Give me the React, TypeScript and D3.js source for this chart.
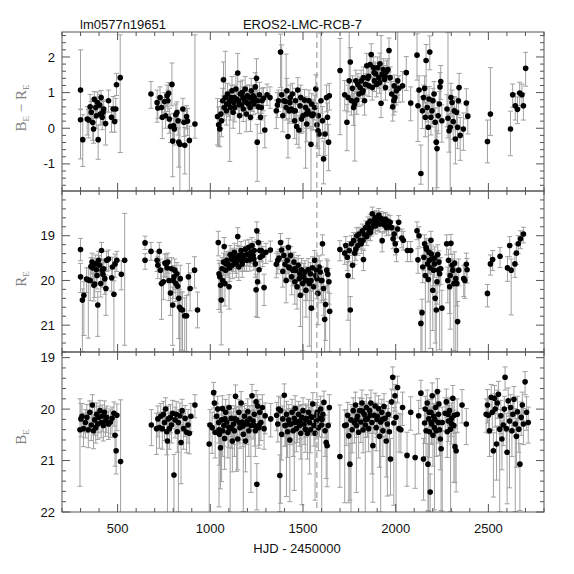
import React from 'react';
import * as d3 from 'd3';

// [HJD-2450000, value, error toward top of panel, error toward bottom of panel]
type Pt = [number, number, number, number];

const colorData: Pt[] = [
  [300,1.07,1.13,0.55],[300,0.24,0.3,1.1],[312,-0.32,0.7,0.75],[336,0.26,0.35,0.45],[344,0.23,0.3,0.5],
  [352,0.6,0.35,0.35],[358,0.45,0.3,0.3],[366,0.16,0.32,0.5],[370,-0.02,0.3,0.4],[374,0.81,0.22,0.3],
  [382,0.58,0.3,0.3],[385,0.35,0.28,0.35],[391,0.72,0.3,0.3],[395,-0.32,0.4,0.55],[403,0.65,0.3,0.32],
  [407,0.4,0.25,0.3],[411,0.86,0.2,0.3],[417,0.31,0.3,0.35],[421,0.45,0.3,0.3],[425,0.54,0.25,0.35],
  [435,0.13,0.35,0.6],[451,0.77,0.3,0.32],[467,0.31,0.3,0.42],[476,0.54,0.35,0.3],[484,0.19,0.35,0.3],
  [490,0.54,0.3,0.3],[494,1.22,0.32,0.3],[514,1.42,1.2,2.1],
  [680,0.96,0.35,0.4],[713,0.72,0.35,0.55],[717,0.57,0.3,0.3],[729,0.86,0.3,0.32],[737,0.58,0.28,0.3],
  [741,0.31,0.3,0.6],[753,0.75,0.25,0.3],[759,0.35,0.3,0.35],[767,0.91,0.3,0.3],[771,0.77,0.3,0.3],
  [775,0.98,0.3,0.3],[779,0.26,0.3,0.4],[785,0.05,0.35,0.45],[793,1.23,0.6,0.6],[797,-0.36,0.5,1.0],
  [802,0.07,0.35,0.4],[806,-0.02,0.3,0.45],[814,0.38,0.3,0.35],[820,0.44,0.3,0.3],[826,0.21,0.3,0.4],
  [830,-0.39,0.4,0.7],[836,-0.45,0.7,1.4],[852,0.54,0.3,0.4],[858,0.17,0.3,0.4],[862,-0.48,0.5,0.8],
  [872,0.33,0.3,0.35],[877,0.2,0.35,0.4],[887,-0.34,0.4,1.4],[917,0.12,2.5,0.4],
  [1039,0.33,0.5,0.8],[1045,0.1,0.5,0.6],[1051,-0.02,0.4,0.5],[1057,0.4,0.35,0.4],[1061,0.21,0.4,0.45],
  [1067,0.77,0.35,0.35],[1071,1.36,0.5,0.45],[1075,0.58,0.3,0.35],[1081,0.86,1.3,0.35],[1087,0.49,0.35,0.4],
  [1089,0.68,0.3,0.3],[1093,0.96,0.3,0.3],[1099,0.68,0.35,0.35],[1105,0.77,0.3,1.7],[1109,0.58,0.3,0.35],
  [1112,0.86,0.35,0.3],[1117,1.05,0.4,0.35],[1123,0.45,0.3,0.45],[1127,0.72,0.3,0.3],[1129,0.86,0.35,0.3],
  [1132,0.58,0.3,0.4],[1138,1.1,0.4,0.4],[1142,0.82,0.3,0.3],[1148,1.55,0.55,0.6],[1152,0.77,0.3,0.35],
  [1156,0.66,0.35,0.3],[1158,0.35,0.3,0.5],[1162,0.96,0.35,0.35],[1168,0.66,0.3,0.3],[1172,1.0,0.35,0.35],
  [1176,0.86,0.3,0.3],[1178,0.54,0.3,0.35],[1184,0.79,0.3,0.3],[1188,1.1,0.35,0.4],[1194,0.4,0.35,0.5],
  [1196,0.72,0.3,0.3],[1200,0.91,0.3,0.35],[1206,0.68,0.3,0.3],[1211,0.86,0.35,0.35],[1215,0.58,0.3,0.35],
  [1217,0.31,0.35,0.4],[1221,1.05,0.35,0.35],[1227,0.77,0.3,0.3],[1231,0.91,0.3,0.35],[1235,0.68,0.35,0.3],
  [1237,0.86,0.3,0.3],[1243,1.16,0.4,0.4],[1249,1.4,0.55,0.8],[1253,-0.39,0.5,1.1],[1255,0.77,0.3,0.35],
  [1259,0.6,0.35,0.35],[1265,0.94,0.35,0.4],[1271,0.31,0.35,0.45],[1275,0.58,0.3,0.35],[1279,0.77,0.35,0.35],
  [1287,0.84,0.3,0.35],[1294,-0.05,0.4,0.5],[1306,0.94,0.3,0.3],[1322,0.86,0.3,0.3],
  [1356,0.49,0.3,0.5],[1362,0.65,0.35,0.35],[1368,0.77,0.3,0.3],[1379,2.14,0.5,1.0],[1385,0.94,1.4,0.35],
  [1391,0.35,0.35,0.45],[1397,0.77,0.3,0.35],[1405,0.75,0.3,0.3],[1409,0.58,1.5,0.35],[1413,1.05,0.35,0.4],
  [1419,-0.23,0.5,0.6],[1425,0.49,0.3,0.35],[1429,0.72,0.3,0.3],[1431,0.86,0.35,0.3],[1437,0.54,0.3,0.35],
  [1443,0.96,0.3,0.3],[1449,0.49,0.35,0.35],[1455,0.21,0.35,0.5],[1458,0.49,0.3,0.3],[1460,0.77,0.35,0.3],
  [1466,0.05,0.4,0.5],[1472,1.07,0.35,0.4],[1478,-0.05,0.4,0.5],[1484,0.63,0.3,0.35],[1488,0.86,0.35,0.3],
  [1492,0.26,0.35,0.4],[1500,0.35,0.4,0.45],[1508,0.79,0.3,0.35],[1514,0.58,0.3,1.7],[1518,0.4,0.35,0.4],
  [1520,0.12,0.4,0.5],[1526,0.49,0.35,0.35],[1532,0.77,0.3,0.3],[1537,0.4,0.35,0.4],[1543,-0.45,0.5,1.4],
  [1547,0.68,0.3,0.35],[1549,0.35,0.35,0.4],[1555,0.4,0.4,0.45],[1563,0.58,0.35,0.35],[1569,1.1,0.4,0.4],
  [1575,0.1,0.45,0.6],[1581,-0.07,0.4,0.5],[1583,0.35,0.35,0.4],[1587,-0.16,0.45,0.6],[1597,0.77,1.9,0.35],
  [1605,0.21,0.4,0.5],[1611,-0.86,0.5,0.7],[1619,-0.16,0.45,0.6],[1627,0.86,0.35,0.4],[1632,0.31,0.4,0.5],
  [1638,-0.39,0.5,0.8],[1642,0.91,0.35,0.4],
  [1700,1.62,0.9,1.8],[1725,0.94,0.4,0.45],[1737,0.17,0.5,0.8],[1743,0.86,0.35,0.4],[1749,1.33,1.4,0.4],
  [1755,1.86,0.4,0.5],[1761,0.77,0.35,0.4],[1767,1.12,0.35,0.35],[1773,0.58,0.4,0.5],[1779,0.68,0.35,1.6],
  [1785,1.33,0.3,0.35],[1790,0.79,0.35,0.4],[1796,1.23,0.3,0.35],[1802,0.96,0.3,0.35],[1808,1.14,0.3,0.3],
  [1814,1.33,0.3,0.3],[1820,1.0,0.3,0.35],[1824,1.05,0.3,0.3],[1826,1.42,0.3,0.3],[1832,0.77,0.35,0.4],
  [1838,1.23,0.3,0.3],[1844,1.75,0.35,0.35],[1850,1.4,0.3,0.3],[1854,1.46,0.3,0.3],[1856,1.19,0.3,0.3],
  [1862,1.79,0.3,0.35],[1868,2.07,0.3,0.35],[1874,1.14,0.3,0.35],[1880,1.7,0.3,0.3],[1883,1.56,0.3,0.3],
  [1885,1.33,0.3,0.3],[1891,1.53,0.3,0.3],[1897,1.23,0.3,0.35],[1903,1.7,0.3,0.3],[1909,1.42,0.3,0.3],
  [1913,1.28,0.3,0.3],[1915,1.81,0.3,0.35],[1921,0.7,1.9,0.4],[1927,1.51,0.3,0.3],[1933,1.65,0.3,0.3],
  [1939,1.37,0.3,0.3],[1943,1.46,0.3,0.3],[1945,1.14,0.3,0.35],[1951,1.59,0.3,0.3],[1958,1.65,0.3,0.3],
  [1964,2.18,0.35,0.6],[1970,1.42,0.3,0.35],[1978,0.96,0.35,0.4],[1984,0.6,0.35,0.4],[1990,0.77,0.35,0.4],
  [1992,1.19,0.3,0.35],[1996,0.86,0.35,0.4],[2004,1.05,0.35,0.4],[2011,1.33,1.4,0.4],[2017,1.12,0.35,0.4],
  [2037,1.19,0.4,0.45],[2057,1.56,0.45,0.5],[2081,0.71,0.45,0.5],
  [2115,2.05,0.6,0.7],[2120,0.63,0.4,1.0],[2126,1.07,0.4,0.45],[2136,-1.27,0.8,0.3],[2144,0.49,0.4,0.5],
  [2150,0.86,0.35,0.4],[2156,1.12,0.35,0.4],[2160,0.31,0.4,0.55],[2164,1.9,0.45,1.6],[2170,0.58,0.35,0.4],
  [2176,0.03,0.4,1.8],[2180,0.82,0.35,0.4],[2184,2.14,0.45,0.5],[2190,0.31,0.4,0.5],[2196,0.49,0.35,0.45],
  [2201,0.77,0.35,0.4],[2207,0.96,0.35,0.4],[2213,0.17,0.4,0.55],[2219,-0.39,0.5,1.4],[2223,-0.57,0.5,1.1],
  [2229,0.35,0.4,0.5],[2235,0.68,0.35,0.4],[2239,1.16,0.4,0.45],[2243,1.31,0.45,0.5],[2249,0.21,0.45,0.6],
  [2277,0.54,0.4,0.5],[2282,0.28,2.4,0.55],[2288,-0.07,0.45,0.6],[2294,0.03,0.45,1.8],[2298,0.86,0.4,0.45],
  [2304,0.72,0.35,0.4],[2310,0.19,0.4,0.5],[2316,0.49,0.4,0.45],[2322,-0.3,0.5,0.7],[2328,0.45,0.4,0.5],
  [2334,0.03,0.45,0.6],[2338,0.77,0.35,0.4],[2342,1.14,0.4,0.45],[2348,-0.2,0.5,0.7],[2365,-0.02,0.45,0.6],
  [2381,0.71,0.4,0.45],[2389,0.34,0.4,0.5],
  [2495,-0.37,0.6,0.6],[2511,0.4,1.3,0.6],[2619,-0.02,0.5,0.75],[2631,0.94,0.3,0.35],[2645,0.63,0.35,0.4],
  [2657,0.53,0.35,0.4],[2669,0.99,0.3,0.35],[2681,0.94,0.3,0.35],[2689,0.63,0.35,0.4],[2701,1.68,0.45,0.5],
];

const rData: Pt[] = [
  [300,19.31,0.25,0.25],[300,19.92,0.3,0.35],[310,20.44,0.25,1.15],[318,20.33,0.3,0.9],[332,19.97,0.25,0.3],
  [342,19.99,0.28,1.3],[352,20.0,0.3,0.45],[356,19.69,0.2,0.25],[362,19.59,0.2,0.25],[366,19.72,0.22,0.3],
  [372,20.11,0.25,0.35],[376,20.08,0.25,0.3],[382,19.63,0.2,0.25],[385,19.76,0.22,0.3],[389,19.89,0.25,0.3],
  [393,20.55,0.3,0.7],[397,19.55,0.2,0.25],[403,19.66,0.22,0.25],[409,20.07,0.25,0.3],[413,19.33,0.18,0.2],
  [417,19.77,0.22,0.25],[421,19.86,0.25,0.3],[425,19.74,0.22,0.3],[431,19.96,0.25,0.35],[437,20.18,0.3,0.6],
  [441,19.55,0.2,0.25],[451,19.52,0.2,0.25],[468,19.94,0.25,0.3],[472,19.7,0.22,0.3],[480,20.31,0.3,1.3],
  [486,19.63,0.22,0.3],[496,19.55,0.2,0.25],[520,19.86,0.3,0.35],[538,19.55,1.05,1.9],
  [648,19.16,0.15,0.15],[648,19.55,0.15,0.2],[680,19.35,0.2,0.2],[713,19.55,0.2,0.25],[717,19.66,0.2,0.3],
  [725,19.35,0.2,0.25],[731,19.77,0.25,0.3],[737,20.07,0.3,0.8],[747,20.03,0.3,0.4],[755,19.61,0.2,0.3],
  [761,19.63,0.22,0.3],[767,19.72,0.22,0.3],[771,19.59,0.2,0.25],[777,20.0,0.3,0.45],[785,20.28,0.3,0.5],
  [791,19.74,0.25,0.3],[797,20.55,0.4,0.9],[800,20.0,0.3,0.4],[804,19.92,0.25,0.35],[808,19.77,0.25,0.3],
  [814,20.07,0.3,0.4],[820,19.85,0.25,0.35],[824,20.13,0.3,0.45],[830,20.4,0.4,0.9],[834,20.6,0.4,1.0],
  [838,19.96,0.3,0.4],[842,20.65,0.4,1.0],[850,20.66,0.4,0.9],[862,20.79,0.4,0.8],[872,20.79,0.45,0.8],
  [882,19.92,0.3,0.4],[891,20.18,0.35,0.5],[915,19.77,0.3,0.4],[931,20.66,0.4,0.4],
  [1043,19.15,0.25,0.3],[1047,19.85,0.3,0.8],[1051,19.92,0.3,0.5],[1055,20.11,0.35,0.6],[1059,20.44,0.4,1.0],
  [1063,19.74,0.25,0.35],[1067,20.0,0.3,0.45],[1071,19.59,0.2,0.3],[1075,19.24,0.2,0.25],[1079,20.07,0.3,0.5],
  [1083,19.77,0.25,0.3],[1085,19.63,0.2,0.25],[1089,19.55,0.2,0.25],[1095,19.63,0.2,0.3],[1101,20.14,0.3,0.5],
  [1105,19.72,0.22,0.3],[1107,19.42,0.2,0.25],[1113,19.52,0.2,0.25],[1119,19.66,0.2,0.3],[1121,19.48,0.2,0.25],
  [1125,19.55,0.2,0.25],[1130,19.37,0.2,0.25],[1136,19.59,0.2,0.25],[1140,19.63,0.2,0.3],[1142,19.48,0.2,0.25],
  [1148,19.02,0.2,0.2],[1154,19.7,0.22,0.3],[1156,19.44,0.2,0.25],[1160,19.54,0.2,0.25],[1166,19.33,0.2,0.25],
  [1172,19.63,0.22,0.3],[1176,19.55,0.2,0.25],[1178,19.44,0.2,0.25],[1184,19.54,0.2,0.25],[1190,19.3,0.2,0.22],
  [1196,19.55,0.2,0.25],[1198,19.42,0.2,0.25],[1202,19.42,0.2,0.25],[1208,19.26,0.18,0.22],[1213,19.54,0.2,0.25],
  [1215,19.44,0.2,0.25],[1219,19.37,0.2,0.25],[1225,19.22,0.18,0.22],[1231,19.44,0.2,0.25],[1235,19.52,0.2,0.25],
  [1237,19.33,0.2,0.25],[1243,19.63,0.22,0.3],[1247,20.21,0.35,0.6],[1251,18.89,0.2,0.2],[1255,20.03,0.3,0.8],
  [1259,19.15,0.2,0.2],[1263,19.76,0.25,0.3],[1267,19.33,0.2,0.25],[1269,19.48,0.2,0.25],[1275,19.33,0.2,0.25],
  [1283,19.44,0.2,0.25],[1290,20.16,0.3,0.4],[1300,19.37,0.2,0.25],[1324,19.32,0.2,0.25],
  [1356,19.64,0.25,0.3],[1364,19.55,0.2,0.3],[1371,19.5,0.2,0.25],[1379,19.15,0.2,0.25],[1385,19.32,0.2,0.25],
  [1391,19.8,0.25,0.35],[1397,19.44,0.2,0.3],[1403,19.64,0.25,0.3],[1409,20.0,0.3,0.5],[1415,19.55,0.22,0.3],
  [1421,19.26,0.2,0.25],[1423,19.7,0.22,0.3],[1427,19.72,0.22,0.3],[1433,19.44,0.2,0.3],[1439,19.92,0.3,0.4],
  [1445,19.77,0.25,0.35],[1451,19.59,0.22,0.3],[1454,19.74,0.25,0.3],[1456,20.03,0.3,0.5],[1462,19.77,0.25,0.35],
  [1468,20.14,0.3,0.5],[1474,19.66,0.22,0.3],[1480,19.96,0.3,0.4],[1483,19.85,0.25,0.35],[1486,20.33,0.35,0.7],
  [1492,19.76,0.25,0.35],[1498,20.07,0.3,1.5],[1504,19.92,0.3,0.4],[1510,19.81,0.25,0.35],[1513,20.0,0.3,0.45],
  [1516,20.22,0.35,0.6],[1522,20.0,0.3,0.45],[1528,19.76,0.25,0.35],[1534,20.07,0.3,1.4],[1540,19.85,0.25,0.4],
  [1543,20.0,0.3,0.45],[1545,20.62,0.4,1.0],[1551,19.72,0.25,0.35],[1557,20.14,0.3,0.5],[1563,19.55,0.22,0.3],
  [1569,19.89,0.3,0.4],[1572,19.77,0.25,0.35],[1575,19.96,0.3,0.45],[1581,20.29,0.35,0.7],[1587,19.7,0.25,0.35],
  [1593,19.81,0.25,0.4],[1599,20.0,0.3,0.5],[1602,20.0,0.3,0.45],[1605,19.18,0.2,0.25],[1611,20.18,0.35,0.6],
  [1617,20.87,0.45,0.8],[1622,20.54,0.4,0.8],[1628,19.77,0.25,0.35],[1634,19.86,0.3,0.4],[1640,20.03,0.3,0.5],
  [1644,20.69,0.4,0.9],
  [1699,19.31,0.2,0.25],[1725,19.39,0.2,0.25],[1731,19.22,0.2,0.25],[1739,19.48,0.22,0.3],[1743,19.89,0.3,1.0],
  [1749,19.33,0.2,0.25],[1755,20.66,0.3,1.0],[1761,19.18,0.18,0.22],[1767,19.66,0.22,0.3],[1773,19.11,0.18,0.22],
  [1779,19.39,0.2,0.25],[1785,19.3,0.2,0.25],[1790,19.0,0.18,0.2],[1796,19.22,0.18,0.22],[1802,18.96,0.15,0.2],
  [1808,19.1,0.18,0.2],[1814,19.18,0.18,0.22],[1820,18.89,0.15,0.18],[1824,19.1,0.18,0.2],[1826,19.53,0.2,0.25],
  [1832,18.98,0.15,0.18],[1838,18.82,0.15,0.18],[1844,19.02,0.15,0.2],[1850,18.73,0.15,0.18],[1854,18.83,0.15,0.18],
  [1856,18.93,0.15,0.18],[1862,18.67,0.15,0.18],[1864,18.93,0.15,0.18],[1868,18.83,0.15,0.18],[1874,18.51,0.15,0.15],
  [1880,18.74,0.15,0.18],[1883,18.7,0.15,0.18],[1885,18.65,0.15,0.18],[1889,18.6,0.15,0.18],[1891,18.78,0.15,0.18],
  [1897,18.59,0.15,0.18],[1903,18.7,0.15,0.18],[1906,18.72,0.15,0.18],[1909,18.54,0.15,0.15],[1915,18.74,0.15,0.18],
  [1921,18.61,0.15,0.18],[1927,19.11,0.2,0.25],[1933,18.65,0.15,0.18],[1939,18.76,0.15,0.18],[1943,18.72,0.15,0.18],
  [1945,18.63,0.15,0.18],[1951,18.82,0.15,0.18],[1957,18.67,0.15,0.18],[1962,18.8,0.15,0.18],[1970,18.7,0.15,0.18],
  [1978,18.82,0.15,0.18],[1986,19.07,0.18,0.22],[1992,18.96,0.18,0.2],[1998,19.18,0.2,0.25],[2004,19.33,0.2,0.25],
  [2010,18.85,0.18,0.2],[2016,18.7,0.15,0.2],[2033,19.05,0.2,0.22],[2041,19.1,0.2,0.22],[2063,19.33,0.2,0.25],
  [2081,19.33,0.2,0.25],
  [2115,18.89,0.2,0.2],[2120,19.54,0.25,0.3],[2126,19.0,0.2,0.25],[2136,20.96,0.3,0.7],[2142,20.72,0.3,0.9],
  [2146,19.7,0.25,0.35],[2152,19.48,0.22,0.3],[2156,19.18,0.2,0.25],[2160,19.89,0.3,1.7],[2164,19.26,0.2,0.25],
  [2166,19.3,0.2,0.25],[2172,19.63,0.25,0.3],[2176,19.98,0.3,0.5],[2180,19.37,0.2,0.3],[2182,19.55,0.22,0.3],
  [2186,19.72,0.25,1.8],[2190,19.1,0.2,0.25],[2192,19.41,0.2,0.3],[2196,19.52,0.22,0.3],[2200,20.22,0.35,0.9],
  [2204,19.77,0.25,0.35],[2209,19.63,0.25,0.3],[2211,19.5,0.25,0.3],[2213,20.4,0.35,1.0],[2219,20.66,0.4,1.0],
  [2223,20.03,0.3,0.5],[2227,19.42,0.22,0.3],[2231,19.77,0.25,0.35],[2233,19.59,0.25,0.3],[2237,19.85,0.3,1.7],
  [2243,19.74,0.25,0.35],[2249,20.62,0.4,1.0],[2275,19.18,0.2,0.25],[2281,20.0,0.3,0.5],[2285,19.55,0.25,0.3],
  [2291,20.14,0.35,0.6],[2294,19.89,0.3,1.2],[2298,19.17,0.2,0.25],[2304,19.66,0.25,0.35],[2308,19.77,0.25,0.35],
  [2314,20.07,0.3,1.5],[2318,19.61,0.25,0.3],[2324,19.96,0.3,1.64],[2330,20.07,0.3,0.5],[2334,20.92,0.45,0.7],
  [2340,19.77,0.25,0.35],[2367,19.96,0.3,0.4],[2373,20.0,0.3,0.4],[2381,19.64,0.25,0.3],[2385,19.76,0.25,0.3],
  [2495,20.29,0.2,0.3],[2511,19.63,0.2,0.25],[2523,19.53,0.2,0.25],[2563,19.46,0.2,0.25],[2603,19.72,0.25,0.3],
  [2615,19.22,0.2,0.25],[2623,19.77,0.25,1.0],[2643,19.63,0.22,0.3],[2651,19.39,0.2,0.25],[2661,19.18,0.18,0.22],
  [2673,19.07,0.18,0.22],[2689,18.96,0.15,0.2],
];

const bData: Pt[] = [
  [297,20.4,0.6,1.1],[302,20.19,0.3,0.35],[308,20.14,0.25,0.3],[316,20.38,0.3,0.35],[326,20.26,0.25,0.3],
  [334,20.16,0.25,0.3],[342,20.4,0.3,0.35],[350,20.06,0.22,0.3],[358,20.31,0.25,0.3],[364,19.92,0.2,0.25],
  [370,20.42,0.3,0.35],[376,20.21,0.25,0.3],[382,20.36,0.25,0.3],[387,20.1,0.22,0.25],[393,20.29,0.25,0.3],
  [399,20.16,0.22,0.3],[405,20.03,0.2,0.25],[411,20.26,0.25,0.3],[417,20.14,0.22,0.3],[423,20.32,0.25,0.3],
  [429,20.06,0.22,0.25],[435,20.23,0.25,0.3],[441,20.16,0.22,0.3],[451,20.29,0.25,0.3],[461,20.25,0.25,0.3],
  [470,20.18,0.22,0.3],[480,20.08,0.22,0.25],[486,20.51,0.35,0.6],[492,20.81,0.3,0.45],[496,20.12,0.22,0.3],
  [516,21.02,1.2,1.0],
  [682,20.31,0.3,0.4],[710,20.38,0.3,0.5],[717,20.19,0.25,0.35],[725,20.36,0.3,0.4],[733,20.14,0.25,0.3],
  [741,20.38,0.3,0.4],[747,20.1,0.25,0.3],[753,20.26,0.25,0.35],[759,20.0,0.22,0.3],[765,20.44,0.3,0.45],
  [769,20.62,0.35,2.0],[773,20.19,0.25,0.3],[779,20.38,0.3,0.4],[785,20.16,0.25,0.3],[791,20.31,0.25,0.35],
  [797,20.08,0.25,0.3],[804,21.28,0.4,1.0],[810,20.21,0.25,0.35],[816,20.1,0.25,0.3],[822,20.44,0.3,0.4],
  [828,20.26,0.25,1.74],[836,20.13,0.25,0.3],[842,20.65,0.35,0.8],[848,20.03,0.22,0.3],[856,20.38,0.3,0.4],
  [864,20.18,0.25,0.35],[872,20.45,0.3,0.4],[880,20.31,0.3,0.35],[887,20.47,0.3,0.4],[895,20.14,0.25,0.3],
  [917,19.92,0.2,0.25],
  [994,20.68,0.4,1.4],[998,20.31,0.3,0.4],[1010,20.36,0.3,0.5],[1018,19.68,0.2,0.3],[1022,19.88,0.22,0.3],
  [1026,20.45,0.3,0.5],[1034,20.14,0.25,0.35],[1040,20.0,0.25,0.3],[1045,20.26,0.3,0.4],[1047,20.4,0.3,1.5],
  [1049,20.49,0.3,0.6],[1055,20.75,0.4,0.8],[1061,20.21,0.25,1.2],[1065,19.99,0.25,0.3],[1067,20.42,0.3,0.5],
  [1073,20.32,0.3,0.4],[1077,20.57,0.35,0.6],[1079,20.19,0.25,0.35],[1083,20.06,0.25,0.3],[1089,20.25,0.3,0.35],
  [1095,20.45,0.3,0.5],[1099,20.35,0.3,0.4],[1101,19.97,0.25,0.3],[1107,20.38,0.3,1.62],[1113,20.18,0.25,0.35],
  [1115,20.36,0.3,0.4],[1119,20.62,0.35,0.6],[1125,20.29,0.3,0.4],[1130,20.42,0.3,0.5],[1134,20.19,0.25,0.35],
  [1136,19.75,0.22,0.3],[1142,20.21,0.25,1.0],[1148,20.58,0.35,0.6],[1154,20.06,0.25,0.3],[1156,20.26,0.3,0.4],
  [1160,20.36,0.3,0.4],[1166,19.88,0.22,0.3],[1172,20.25,0.3,0.35],[1176,20.33,0.3,0.4],[1178,20.49,0.3,1.5],
  [1184,20.14,0.25,0.35],[1190,20.62,0.35,0.6],[1196,20.29,0.3,0.4],[1200,20.23,0.3,0.35],[1202,20.05,0.25,0.3],
  [1208,20.42,0.3,0.5],[1213,20.19,0.25,0.35],[1219,20.32,0.3,1.3],[1225,19.74,0.22,0.3],[1231,20.23,0.3,0.35],
  [1237,20.1,0.25,0.3],[1239,20.32,0.3,0.4],[1243,20.42,0.3,0.5],[1247,19.86,0.22,0.3],[1251,21.46,0.4,0.5],
  [1255,19.94,0.22,0.3],[1261,20.36,0.3,0.4],[1265,20.3,0.3,0.4],[1267,20.06,0.25,0.3],[1273,20.26,0.3,0.35],
  [1281,19.97,0.25,0.3],[1290,20.38,0.3,0.4],[1296,20.13,0.25,0.35],[1326,20.19,0.3,0.35],
  [1358,20.12,0.25,0.3],[1364,20.29,0.3,0.35],[1369,20.0,0.25,0.3],[1375,21.29,0.4,0.7],[1379,20.03,0.25,1.8],
  [1385,20.49,0.3,0.5],[1391,20.19,0.25,0.35],[1399,19.73,0.22,0.3],[1403,20.32,0.3,0.4],[1405,20.32,0.3,0.4],
  [1411,20.1,0.25,1.6],[1417,20.44,0.3,0.5],[1423,20.21,0.3,0.35],[1425,20.29,0.3,0.4],[1429,20.6,0.35,1.2],
  [1435,20.29,0.3,0.4],[1441,20.06,0.25,0.3],[1447,20.42,0.3,0.5],[1453,20.18,0.25,1.4],[1455,20.26,0.3,0.4],
  [1458,19.99,0.25,0.3],[1464,20.38,0.3,0.45],[1470,20.25,0.3,0.4],[1476,20.1,0.25,0.3],[1482,20.32,0.3,0.4],
  [1484,20.23,0.3,0.35],[1488,20.47,0.3,0.5],[1494,20.16,0.25,1.7],[1500,20.03,0.25,0.3],[1506,20.29,0.3,0.4],
  [1512,20.39,0.3,0.45],[1514,20.2,0.3,0.35],[1518,20.18,0.25,0.35],[1524,20.47,0.3,0.5],[1530,20.06,0.25,0.3],
  [1536,20.26,0.3,1.0],[1541,20.4,0.3,0.45],[1543,20.15,0.3,0.35],[1547,20.16,0.25,0.35],[1553,19.9,0.22,0.3],
  [1559,20.32,0.3,0.4],[1565,20.47,0.3,1.3],[1571,20.23,0.3,0.35],[1573,20.12,0.25,0.3],[1577,20.06,0.25,0.3],
  [1583,20.36,0.3,0.45],[1589,20.18,0.25,0.35],[1595,20.0,0.25,0.3],[1601,20.31,0.3,1.7],[1603,20.2,0.3,0.35],
  [1607,20.1,0.25,0.3],[1613,19.87,0.22,0.3],[1619,20.42,0.3,0.5],[1625,20.65,0.35,0.7],[1630,20.71,0.35,0.8],
  [1636,20.32,0.3,0.4],[1642,19.97,0.25,0.3],
  [1699,20.92,1.0,0.6],[1725,20.32,0.3,1.5],[1733,20.31,0.3,0.4],[1741,20.12,0.25,0.35],[1747,20.52,0.35,1.3],
  [1753,21.07,0.4,0.7],[1759,20.21,0.3,1.8],[1765,20.4,0.3,0.45],[1771,20.03,0.25,0.3],[1777,20.26,0.3,0.4],
  [1783,19.92,0.25,0.3],[1788,20.32,0.3,1.3],[1790,20.2,0.3,0.35],[1794,20.14,0.25,0.35],[1800,20.45,0.3,0.5],
  [1806,20.03,0.25,0.3],[1812,20.25,0.3,0.4],[1818,19.88,0.25,0.3],[1820,20.04,0.25,0.3],[1824,20.4,0.3,0.45],
  [1830,20.1,0.25,0.35],[1836,20.31,0.3,1.7],[1838,20.2,0.3,0.35],[1842,19.97,0.25,0.3],[1848,20.19,0.3,0.35],
  [1854,20.38,0.3,0.45],[1860,20.03,0.25,0.3],[1862,20.12,0.25,0.35],[1866,19.88,0.25,0.3],[1872,20.26,0.3,1.0],
  [1877,20.71,0.35,1.1],[1883,20.12,0.25,0.35],[1889,19.94,0.25,0.3],[1895,20.36,0.3,0.45],[1899,20.2,0.3,0.35],
  [1901,20.14,0.25,0.35],[1907,19.99,0.25,0.3],[1913,20.53,0.35,0.6],[1919,20.25,0.3,1.75],[1925,20.06,0.25,0.3],
  [1929,20.2,0.3,0.35],[1931,20.42,0.3,0.5],[1937,19.95,0.25,0.3],[1943,20.18,0.25,0.35],[1949,20.62,0.35,0.7],
  [1955,20.29,0.3,1.4],[1960,20.1,0.25,0.35],[1966,20.44,0.3,0.5],[1972,20.97,0.4,0.7],[1978,19.86,0.25,0.3],
  [1984,19.38,0.2,0.25],[1990,20.27,0.3,1.6],[1996,19.74,0.22,0.3],[2002,20.16,0.3,1.85],[2010,19.58,0.22,0.3],
  [2018,20.38,0.3,0.45],[2028,20.4,0.3,0.45],[2037,19.97,0.3,0.35],[2061,20.9,0.45,0.6],[2081,20.06,0.3,0.35],
  [2105,20.94,0.45,0.6],[2124,20.13,0.3,0.35],[2136,19.69,0.25,0.3],[2150,20.97,0.4,0.8],[2156,20.27,0.3,0.4],
  [2160,20.0,0.25,0.3],[2164,20.42,0.3,0.5],[2170,19.88,0.25,0.3],[2174,21.07,0.4,0.9],[2178,20.19,0.3,1.8],
  [2180,20.06,0.25,0.3],[2182,20.44,0.3,0.5],[2186,21.61,0.35,0.4],[2190,20.06,0.25,0.3],[2192,20.26,0.3,0.4],
  [2194,20.29,0.3,0.4],[2197,19.74,0.25,0.3],[2201,20.51,0.35,0.6],[2205,20.14,0.25,0.35],[2209,20.36,0.3,1.6],
  [2211,20.2,0.3,0.35],[2215,19.97,0.25,0.3],[2219,20.42,0.3,0.5],[2225,19.66,0.25,0.3],[2229,20.26,0.3,0.4],
  [2231,20.1,0.25,0.35],[2233,19.9,0.25,0.3],[2237,20.4,0.3,0.5],[2241,20.58,0.35,0.6],[2245,20.77,0.35,1.2],
  [2251,20.26,0.3,1.74],[2267,20.08,0.3,0.35],[2273,19.86,0.25,0.3],[2278,20.44,0.3,0.5],[2282,20.1,0.3,0.35],
  [2284,20.23,0.3,0.4],[2290,20.03,0.25,0.35],[2296,20.39,0.3,1.6],[2300,20.28,0.3,0.4],[2302,20.18,0.3,0.35],
  [2308,19.79,0.25,0.3],[2314,20.32,0.3,1.1],[2316,20.12,0.3,0.35],[2320,20.73,0.35,0.7],[2326,20.81,0.35,0.8],
  [2332,20.1,0.3,0.35],[2358,19.92,0.3,0.35],[2381,20.29,0.3,0.4],[2488,20.1,0.3,0.35],[2495,19.92,0.3,0.35],
  [2500,20.12,0.3,0.35],[2506,20.42,0.3,0.5],[2515,19.77,0.25,0.3],[2521,20.06,0.3,0.35],[2527,20.81,0.35,0.9],
  [2533,19.79,0.25,0.3],[2537,20.0,0.3,0.35],[2544,20.68,0.35,0.7],[2548,19.88,0.25,0.3],[2554,19.71,0.25,0.3],
  [2561,20.39,0.3,1.6],[2567,20.13,0.3,0.35],[2573,20.58,0.35,0.6],[2580,20.31,0.3,0.4],[2586,20.0,0.25,0.3],
  [2590,19.38,0.2,0.25],[2597,20.38,0.3,0.45],[2601,20.84,0.4,1.0],[2607,19.84,0.25,0.3],[2614,20.23,0.3,1.3],
  [2620,19.97,0.25,0.3],[2627,20.42,0.3,0.5],[2632,20.1,0.3,0.35],[2638,19.81,0.25,0.3],[2645,20.29,0.3,1.7],
  [2651,20.53,0.35,0.6],[2657,20.05,0.3,0.35],[2664,20.39,0.3,0.45],[2670,21.07,0.4,0.9],[2677,20.16,0.3,0.35],
  [2683,19.92,0.25,0.3],[2689,20.29,0.3,0.4],[2698,19.47,0.2,0.25],[2706,20.06,0.3,0.35],[2715,20.26,0.3,0.4],
];

const xDomain: [number, number] = [200, 2800];
const xMajorTicks = [500, 1000, 1500, 2000, 2500];
const colorDomain: [number, number] = [-1.76, 2.7];
const rDomain: [number, number] = [18.0, 21.6];
const bDomain: [number, number] = [18.89, 22.0];
const colorTicks = [-1, 0, 1, 2];
const rTicks = [19, 20, 21];
const bTicks = [19, 20, 21, 22];
const titleLeft = 'lm0577n19651';
const titleCenter = 'EROS2-LMC-RCB-7';
const xTitle = 'HJD - 2450000';
const markerHJD = 1575;

const SANS = '"Liberation Sans", Arial, Helvetica, sans-serif';
const SERIF = '"Liberation Serif", "DejaVu Serif", serif';
const AXIS = '#555';
const ERR = '#a0a0a0';

export default function App() {
  const L = 62, R = 544;
  const x = d3.scaleLinear().domain(xDomain).range([L, R]);
  const panels = [
    { key: 'c', top: 32, bottom: 191, y: d3.scaleLinear().domain(colorDomain).range([191, 32]), data: colorData, ticks: colorTicks, dom: colorDomain, labelY: 108 },
    { key: 'r', top: 191, bottom: 352, y: d3.scaleLinear().domain(rDomain).range([191, 352]), data: rData, ticks: rTicks, dom: rDomain, labelY: 279 },
    { key: 'b', top: 352, bottom: 512, y: d3.scaleLinear().domain(bDomain).range([352, 512]), data: bData, ticks: bTicks, dom: bDomain, labelY: 437 },
  ];
  const xMinor = d3.range(200, 2801, 100).filter((v) => v % 500 !== 0);
  const minorY = (dom: [number, number]) => {
    const lo = Math.min(dom[0], dom[1]), hi = Math.max(dom[0], dom[1]);
    return d3.range(Math.ceil(lo * 5 - 1e-9), Math.floor(hi * 5 + 1e-9) + 1).map((i) => i / 5).filter((v) => Math.abs(v - Math.round(v)) > 1e-6);
  };

  const yLabel = (key: string) => {
    if (key === 'c') return (<><tspan>B</tspan><tspan dy={3} fontSize={9}>E</tspan><tspan dy={-3}>{' \u2212 R'}</tspan><tspan dy={3} fontSize={9}>E</tspan></>);
    if (key === 'r') return (<><tspan>R</tspan><tspan dy={3} fontSize={9}>E</tspan></>);
    return (<><tspan>B</tspan><tspan dy={3} fontSize={9}>E</tspan></>);
  };

  return (
    <svg width={574} height={574} style={{ position: 'absolute', left: 0, top: 0, background: '#fff' }} fontFamily={SANS}>
      <rect x={0} y={0} width={574} height={574} fill="#fff" />
      <defs>
        {panels.map((p) => (
          <clipPath id={`clip-${p.key}`} key={p.key}>
            <rect x={L} y={p.top} width={R - L} height={p.bottom - p.top} />
          </clipPath>
        ))}
      </defs>

      {panels.map((p) => (
        <g key={p.key}>
          <g clipPath={`url(#clip-${p.key})`}>
            {p.data.map((d, i) => {
              const cx = x(d[0]);
              const yTop = p.key === 'c' ? p.y(d[1] + d[2]) : p.y(d[1] - d[2]);
              const yBot = p.key === 'c' ? p.y(d[1] - d[3]) : p.y(d[1] + d[3]);
              return (
                <g key={i} stroke={ERR} strokeWidth={1}>
                  <line x1={cx} x2={cx} y1={yTop} y2={yBot} />
                  <line x1={cx - 2.5} x2={cx + 2.5} y1={yTop} y2={yTop} />
                  <line x1={cx - 2.5} x2={cx + 2.5} y1={yBot} y2={yBot} />
                </g>
              );
            })}
            {p.data.map((d, i) => (
              <circle key={i} cx={x(d[0])} cy={p.y(d[1])} r={2.8} fill="#000" />
            ))}
          </g>
          {xMinor.map((v) => (
            <g key={v} stroke={AXIS}>
              <line x1={x(v)} x2={x(v)} y1={p.top} y2={p.top + 4} />
              <line x1={x(v)} x2={x(v)} y1={p.bottom} y2={p.bottom - 4} />
            </g>
          ))}
          {xMajorTicks.map((v) => (
            <g key={v} stroke={AXIS}>
              <line x1={x(v)} x2={x(v)} y1={p.top} y2={p.top + 8} />
              <line x1={x(v)} x2={x(v)} y1={p.bottom} y2={p.bottom - 8} />
            </g>
          ))}
          {minorY(p.dom).map((v) => (
            <g key={v} stroke={AXIS}>
              <line x1={L} x2={L + 4} y1={p.y(v)} y2={p.y(v)} />
              <line x1={R} x2={R - 4} y1={p.y(v)} y2={p.y(v)} />
            </g>
          ))}
          {p.ticks.map((v) => (
            <g key={v}>
              <line x1={L} x2={L + 8} y1={p.y(v)} y2={p.y(v)} stroke={AXIS} />
              <line x1={R} x2={R - 8} y1={p.y(v)} y2={p.y(v)} stroke={AXIS} />
              <text x={55} y={p.y(v)} dy="0.35em" textAnchor="end" fontSize={13} fill="#111">{v < 0 ? `-${Math.abs(v)}` : `${v}`}</text>
            </g>
          ))}
          <text transform={`translate(26,${p.labelY}) rotate(-90)`} textAnchor="middle" fontFamily={SERIF} fontSize={15} fill="#808080">
            {yLabel(p.key)}
          </text>
          <rect x={L} y={p.top} width={R - L} height={p.bottom - p.top} fill="none" stroke={AXIS} strokeWidth={1} />
        </g>
      ))}

      <line x1={x(markerHJD)} x2={x(markerHJD)} y1={32} y2={512} stroke="#8a8a8a" strokeWidth={1} strokeDasharray="6,4" />

      {xMajorTicks.map((v) => (
        <text key={v} x={x(v)} y={533} textAnchor="middle" fontSize={13} fill="#111">{v}</text>
      ))}
      <text x={297} y={553} textAnchor="middle" fontSize={13} fill="#111">{xTitle}</text>
      <text x={80} y={28.5} fontSize={13} fill="#111">{titleLeft}</text>
      <text x={302.5} y={28.5} textAnchor="middle" fontSize={13} fill="#111">{titleCenter}</text>
    </svg>
  );
}
